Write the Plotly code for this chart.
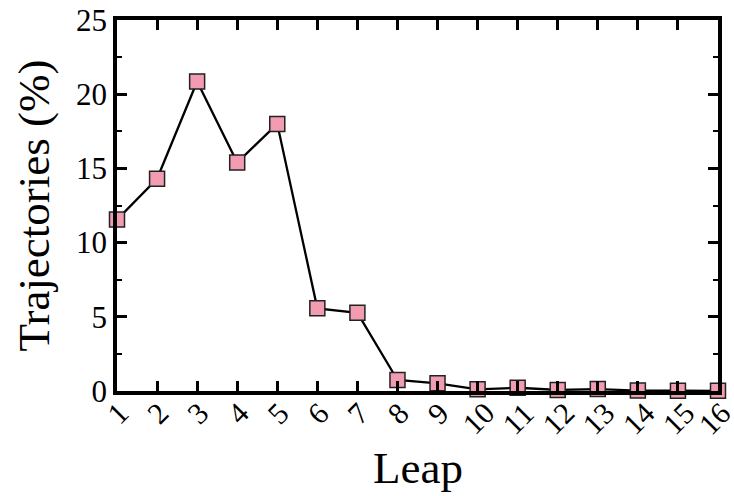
import plotly.graph_objects as go

leap = list(range(1, 17))
leap_labels = [str(v) for v in leap]
trajectories = [11.55, 14.3, 20.86, 15.4, 18.0, 5.57, 5.27, 0.74, 0.52,
                0.11, 0.22, 0.07, 0.13, 0.03, 0.02, 0.01]
y_ticks = [0, 5, 10, 15, 20, 25]

FONT = "Liberation Serif"

fig = go.Figure()
fig.add_trace(go.Scatter(
    x=leap, y=trajectories, mode="lines+markers",
    line=dict(color="black", width=2.3),
    marker=dict(symbol="square", size=15, color="#F19CB1",
                line=dict(color="#222222", width=1.5)),
    cliponaxis=False, showlegend=False,
))

axis_common = dict(
    showline=True, linecolor="black", linewidth=3.5, mirror="allticks",
    ticks="inside", tickcolor="black", tickwidth=3, ticklen=10,
    showgrid=False, zeroline=False, layer="above traces", automargin=False,
)

fig.update_xaxes(range=[1, 16], tickmode="array", tickvals=leap,
                 showticklabels=False, **axis_common)
fig.update_yaxes(range=[0, 25], tickmode="array", tickvals=y_ticks,
                 tickfont=dict(family=FONT, size=31, color="black"),
                 minor=dict(dtick=2.5, ticks="inside", ticklen=5, tickwidth=2,
                            tickcolor="black", showgrid=False),
                 **axis_common)

annotations = []
for i, (v, lab) in enumerate(zip(leap, leap_labels)):
    annotations.append(dict(
        x=v, y=0, xref="x", yref="paper", text=lab, showarrow=False,
        textangle=-45, xanchor="center", yanchor="middle",
        yshift=-22 - 5 * (len(lab) - 1),
        xshift=-4 if i == len(leap) - 1 else 0,
        font=dict(family=FONT, size=30, color="black"),
    ))
annotations.append(dict(
    x=0.5, y=0, xref="paper", yref="paper", text="Leap", showarrow=False,
    xanchor="center", yanchor="middle", yshift=-77,
    font=dict(family=FONT, size=45, color="black"),
))
annotations.append(dict(
    x=0, y=0.5, xref="paper", yref="paper", text="Trajectories (%)",
    showarrow=False, textangle=-90, xanchor="center", yanchor="middle",
    xshift=-84,
    font=dict(family=FONT, size=45, color="black"),
))

fig.update_layout(
    width=734, height=496,
    margin=dict(l=117, r=16, t=20, b=105),
    paper_bgcolor="white", plot_bgcolor="white",
    annotations=annotations,
)

fig.write_html("out.html")
